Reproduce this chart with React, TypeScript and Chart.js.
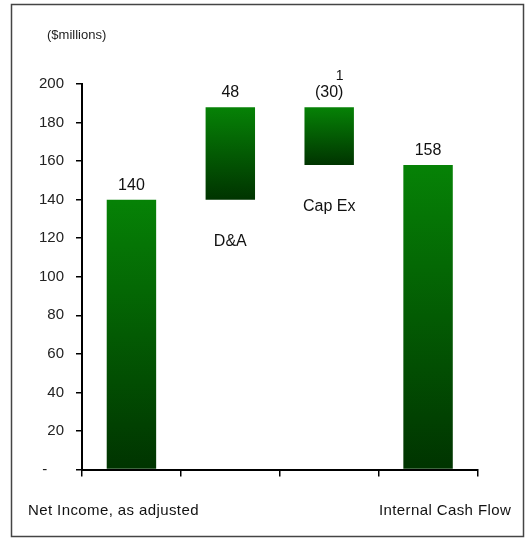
import { useEffect, useRef } from "react";
import { Chart, registerables } from "chart.js";

Chart.register(...registerables);

// Cash-flow bridge, $ millions
const categories = ["Net Income, as adjusted", "D&A", "Cap Ex", "Internal Cash Flow"];
const stepValues = [140, 48, -30, 158];
const isTotal = [true, false, false, true];
const valueLabels = ["140", "48", "(30)", "158"];
const footnoteMarks = ["", "", "1", ""];
const unitsLabel = "($millions)";
const yMin = 0;
const yMax = 200;
const yStep = 20;

// Floating [start, end] ranges for the waterfall bars
const ranges: [number, number][] = [];
let running = 0;
stepValues.forEach((v, i) => {
  if (isTotal[i]) {
    ranges.push([0, v]);
    running = v;
  } else {
    ranges.push([running, running + v]);
    running += v;
  }
});

const FONT = '"Liberation Sans", Arial, Helvetica, sans-serif';
const GREEN_TOP = "rgb(6,130,6)";
const GREEN_BOTTOM = "rgb(0,52,0)";

const annotations = {
  id: "bridgeAnnotations",
  beforeDraw(chart: any) {
    const { ctx } = chart;
    ctx.save();
    ctx.fillStyle = "#ffffff";
    ctx.fillRect(0, 0, chart.width, chart.height);
    ctx.restore();
  },
  afterDraw(chart: any) {
    const { ctx, chartArea } = chart;
    ctx.save();
    // outer frame
    ctx.strokeStyle = "#444";
    ctx.lineWidth = 1.5;
    ctx.strokeRect(11.5, 4.5, 512, 532);

    // units caption
    ctx.fillStyle = "#222";
    ctx.font = `13px ${FONT}`;
    ctx.textAlign = "left";
    ctx.textBaseline = "alphabetic";
    ctx.fillText(unitsLabel, chartArea.left - 35, 39);

    const meta = chart.getDatasetMeta(0);
    meta.data.forEach((bar: any, i: number) => {
      const { x, y, base } = bar.getProps(["x", "y", "base"], true);
      const top = Math.min(y, base);
      const bottom = Math.max(y, base);

      ctx.fillStyle = "#111";
      ctx.font = `16px ${FONT}`;
      ctx.textAlign = "center";
      ctx.letterSpacing = "0px";
      ctx.fillText(valueLabels[i], x, top - 10);

      if (footnoteMarks[i]) {
        const w = ctx.measureText(valueLabels[i]).width;
        ctx.font = `14px ${FONT}`;
        ctx.textAlign = "right";
        ctx.fillText(footnoteMarks[i], x + w / 2, top - 27);
      }

      if (!isTotal[i]) {
        ctx.font = `16px ${FONT}`;
        ctx.textAlign = "center";
        ctx.fillText(categories[i], x, bottom + 46);
      } else {
        ctx.font = `15px ${FONT}`;
        ctx.letterSpacing = "0.4px";
        ctx.textAlign = "center";
        const dx = i === 0 ? -18 : 17;
        ctx.fillText(categories[i], x + dx, 515);
        ctx.letterSpacing = "0px";
      }
    });
    ctx.restore();
  },
};

export default function App() {
  const canvasRef = useRef<HTMLCanvasElement | null>(null);

  useEffect(() => {
    if (!canvasRef.current) return;
    const chart = new Chart(canvasRef.current, {
      type: "bar",
      data: {
        labels: categories,
        datasets: [
          {
            data: ranges as any,
            barPercentage: 0.5,
            categoryPercentage: 1,
            borderWidth: 0,
            backgroundColor: (c: any) => {
              const ch = c.chart;
              const ys = ch.scales?.y;
              if (!ys || c.type !== "data") return GREEN_TOP;
              const [a, b] = ranges[c.dataIndex];
              const top = ys.getPixelForValue(Math.max(a, b));
              const bottom = ys.getPixelForValue(Math.min(a, b));
              if (!isFinite(top) || !isFinite(bottom) || top === bottom) return GREEN_TOP;
              const g = ch.ctx.createLinearGradient(0, top, 0, bottom);
              g.addColorStop(0, GREEN_TOP);
              g.addColorStop(1, GREEN_BOTTOM);
              return g;
            },
          },
        ],
      },
      options: {
        responsive: false,
        animation: false,
        devicePixelRatio: 1,
        layout: { padding: { top: 84, right: 48.5, bottom: 38.5, left: 0 } },
        plugins: {
          legend: { display: false },
          tooltip: { enabled: false },
          title: { display: false },
        },
        scales: {
          x: {
            type: "category",
            offset: true,
            grid: {
              display: true,
              offset: true,
              drawOnChartArea: false,
              drawTicks: true,
              tickLength: 7,
              color: "#000",
              lineWidth: 1.5,
            },
            border: { display: true, color: "#000", width: 2 },
            ticks: { display: false },
            afterFit: (s: any) => {
              s.height = 30;
            },
          },
          y: {
            min: yMin,
            max: yMax,
            ticks: {
              stepSize: yStep,
              autoSkip: false,
              padding: 12,
              color: "#222",
              font: { family: FONT, size: 15 },
              callback: (v: any) => (Number(v) === 0 ? "-    " : String(v)),
            },
            grid: {
              drawOnChartArea: false,
              drawTicks: true,
              tickLength: 6,
              color: "#000",
              lineWidth: 1.5,
            },
            border: { display: true, color: "#000", width: 2 },
            afterFit: (s: any) => {
              s.width = 82;
            },
          },
        },
      },
      plugins: [annotations],
    });
    return () => chart.destroy();
  }, []);

  return (
    <div style={{ position: "absolute", left: 0, top: 0, width: 526, height: 538 }}>
      <canvas ref={canvasRef} width={526} height={538} />
    </div>
  );
}
